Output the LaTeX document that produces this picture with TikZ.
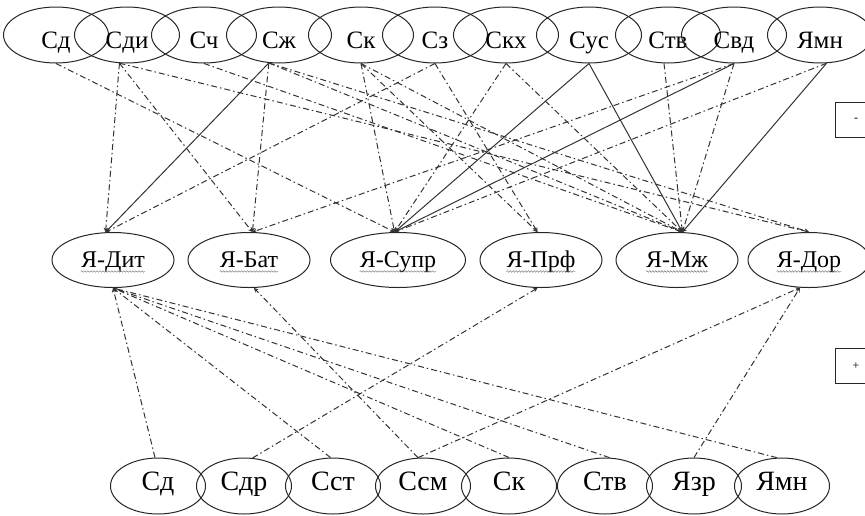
\documentclass[tikz,border=0pt]{standalone}
\usepackage{fontspec}
\setmainfont{Liberation Serif}
\usetikzlibrary{shapes,arrows}
\usetikzlibrary{positioning}
\usetikzlibrary{decorations.pathmorphing}

\begin{document}
\begin{tikzpicture}[x=1pt, y=-1pt, >=stealth,
  topnode/.style={ellipse, draw=black!85, line width=1pt, minimum width=105pt, minimum height=56pt, inner sep=0pt, text height=28pt, text depth=2pt, font=\fontsize{25}{25}\selectfont},
  midnode/.style={ellipse, draw=black!85, line width=1pt, minimum width=122pt, minimum height=55pt, inner sep=0pt},
  midtext/.style={inner sep=0pt, text height=17pt, text depth=2pt, font=\fontsize{24}{24}\selectfont},
  botnode/.style={ellipse, draw=black!85, line width=1pt, minimum width=95pt, minimum height=56pt, inner sep=0pt, text height=10pt, text depth=2pt, font=\fontsize{28}{28}\selectfont},
  signbox/.style={rectangle, draw=black!85, line width=1pt, minimum width=42pt, minimum height=35pt, font=\fontsize{12}{12}\selectfont},
  wave/.style={decorate, decoration={snake, amplitude=0.8pt, segment length=3pt}, line width=0.4pt, black!60},
  dashdot/.style={dash pattern=on 6pt off 3pt on 1.5pt off 3pt, line width=1pt, black!80},
  solidlink/.style={line width=1pt, black!80}]
\useasboundingbox (0,0) rectangle (865,515);

% top row
\node[topnode] (sd) at (56,35) {Сд};
\node[topnode, right=-35pt of sd] (sdi) {Сди};
\node[topnode, right=-29pt of sdi] (sch) {Сч};
\node[topnode, right=-31pt of sch] (szh) {Сж};
\node[topnode, right=-24pt of szh] (sk) {Ск};
\node[topnode, right=-32pt of sk] (sz) {Сз};
\node[topnode, right=-35pt of sz] (skh) {Скх};
\node[topnode, right=-23pt of skh] (sus) {Сус};
\node[topnode, right=-27pt of sus] (stv) {Ств};
\node[topnode, right=-40pt of stv] (svd) {Свд};
\node[topnode, right=-20pt of svd] (yamn) {Ямн};

% middle row
\node[midnode, label={[midtext, name=ydit-t]center:Я-Дит}] (ydit) at (113,260) {};
\node[midnode, label={[midtext, name=ybat-t]center:Я-Бат}, right=13pt of ydit] (ybat) {};
\node[midnode, label={[midtext, name=ysupr-t]center:Я-Супр}, minimum width=135pt, right=19.5pt of ybat] (ysupr) {};
\node[midnode, label={[midtext, name=yprf-t]center:Я-Прф}, right=13.5pt of ysupr] (yprf) {};
\node[midnode, label={[midtext, name=ymzh-t]center:Я-Мж}, right=13pt of yprf] (ymzh) {};
\node[midnode, label={[midtext, name=ydor-t]center:Я-Дор}, right=9pt of ymzh] (ydor) {};
\foreach \n in {ydit,ybat,ysupr,yprf,ymzh,ydor}
  \draw[wave] ([yshift=-4pt]\n-t.base west) -- ([yshift=-4pt]\n-t.base east);

% bottom row
\node[botnode] (bsd) at (158,486) {Сд};
\node[botnode, right=-10pt of bsd] (bsdr) {Сдр};
\node[botnode, right=-7pt of bsdr] (bsst) {Сст};
\node[botnode, right=-6pt of bsst] (bssm) {Ссм};
\node[botnode, right=-10pt of bssm] (bsk) {Ск};
\node[botnode, right=0pt of bsk] (bstv) {Ств};
\node[botnode, right=-7pt of bstv] (byazr) {Язр};
\node[botnode, right=-8pt of byazr] (byamn) {Ямн};

% signs
\node[signbox] (minus) at (856,120) {-};
\node[signbox] (plus) at (856,366) {+};

% top -> middle
\path[->, dashdot] (sd.south) edge (ysupr.97);
\path[->, dashdot] (sdi.255) edge (ydit.105);
\path[->, dashdot] (sdi.255) edge (ybat.83);
\path[->, dashdot] (sdi.255) edge (ydor.north);
\path[->, dashdot] (sch.south) edge (ymzh.79);
\path[->, solidlink] (szh.250) edge (ydit.105);
\path[->, dashdot] (szh.250) edge (ybat.83);
\path[->, dashdot] (szh.250) edge (ymzh.79);
\path[->, dashdot] (szh.250) edge (ydor.north);
\path[->, dashdot] (sk.south) edge (ysupr.97);
\path[->, dashdot] (sk.south) edge (yprf.97);
\path[->, dashdot] (sk.south) edge (ymzh.79);
\path[->, dashdot] (sz.south) edge (ydit.105);
\path[->, dashdot] (sz.south) edge (yprf.97);
\path[->, dashdot] (skh.south) edge (ysupr.97);
\path[->, dashdot] (skh.south) edge (ymzh.79);
\path[->, solidlink] (sus.south) edge (ysupr.97);
\path[->, solidlink] (sus.south) edge (ymzh.79);
\path[->, dashdot] (stv.262) edge (ymzh.79);
\path[->, dashdot] (svd.south) edge (ybat.83);
\path[->, solidlink] (svd.south) edge (ysupr.97);
\path[->, dashdot] (svd.south) edge (ymzh.79);
\path[->, dashdot] (yamn.283) edge (ysupr.97);
\path[->, solidlink] (yamn.283) edge (ymzh.79);

% bottom -> middle
\path[->, dashdot] (bsd.96) edge (ydit.south);
\path[->, dashdot] (bsst.95) edge (ydit.south);
\path[->, dashdot] (bsk.north) edge (ydit.south);
\path[->, dashdot] (bstv.81) edge (ydit.south);
\path[->, dashdot] (byamn.100) edge (ydit.south);
\path[->, dashdot] (bssm.100) edge (ybat.280);
\path[->, dashdot] (bssm.100) edge (ydor.252);
\path[->, dashdot] (bsdr.73) edge (yprf.263);
\path[->, dashdot] (byazr.north) edge (ydor.252);
\end{tikzpicture}
\end{document}
